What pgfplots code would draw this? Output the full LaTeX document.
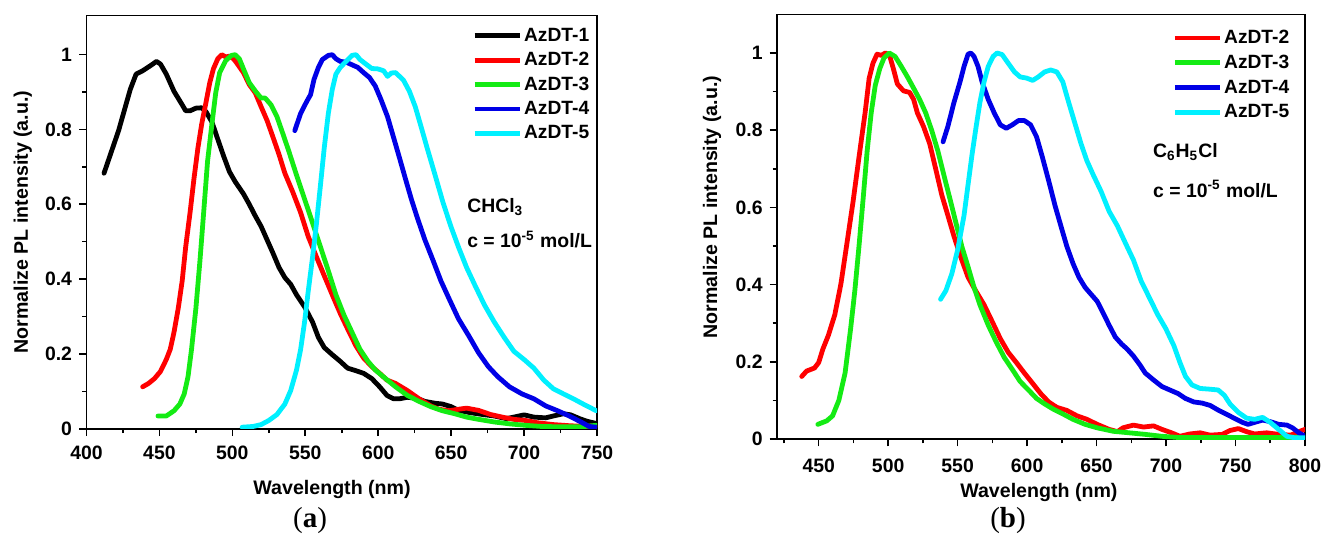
\documentclass[border=0pt]{standalone}
\usepackage{pgfplots}
\pgfplotsset{compat=1.18}
\usepackage{fontspec}
\setmainfont{Liberation Sans}
\newfontfamily\capfont{Liberation Serif}
\definecolor{cR}{RGB}{255,0,0}
\definecolor{cG}{RGB}{20,235,20}
\definecolor{cB}{RGB}{0,0,230}
\definecolor{cC}{RGB}{0,240,255}
\pgfplotsset{
  spec/.style={
    scale only axis,
    axis line style={line width=0.8pt},
    tick style={line width=0.8pt, black},
    tick align=outside, tick pos=left,
    major tick length=3.7pt, minor tick length=2.2pt,
    /pgf/number format/assume math mode=true,
    ticklabel style={font=\fontsize{9.7}{11}\selectfont\bfseries},
    ymin=0, ymax=1.105,
    ytick={0,0.2,0.4,0.6,0.8,1},
    minor ytick={0.1,0.3,0.5,0.7,0.9},
    ylabel={Normalize PL intensity (a.u.)},
    xlabel={Wavelength (nm)},
    every axis plot/.append style={line width=2.4pt, line join=round, line cap=round},
    legend style={draw=none, fill=none, inner sep=0pt, row sep=1.7pt,
      font=\fontsize{9.6}{11}\selectfont\bfseries,
      nodes={inner sep=1pt, text height=7pt, text depth=1.5pt}},
    legend cell align=left,
    legend image code/.code={\draw[#1, line width=2.4pt, line cap=butt] (0pt,0pt) -- (22.5pt,0pt);},
  }
}
\begin{document}
\begin{tikzpicture}
\useasboundingbox (0,0) rectangle (661pt,268.5pt);
% ---------------- (a) ----------------
\begin{axis}[spec,
  at={(43.25pt,54.15pt)}, anchor=south west,
  width=255.25pt, height=206.65pt,
  xmin=400, xmax=750,
  xtick={400,450,500,550,600,650,700,750},
  minor xtick={425,475,525,575,625,675,725},
  xticklabel shift=1.5pt,
  every axis y label/.style={at={(axis description cs:-0.125,0.5)}, rotate=90, anchor=center, font=\fontsize{9.8}{11}\selectfont\bfseries},
  every axis x label/.style={at={(axis description cs:0.481,-0.148)}, anchor=center, font=\fontsize{9.8}{11}\selectfont\bfseries},
  legend style={at={(0.755,0.977)}, anchor=north west},
  after end axis/.code={
    \node[anchor=center, font=\fontsize{14.5}{16}\selectfont\capfont] at (axis description cs:0.438,-0.2233) {(\textbf{a})};
  },
]
\addplot[black] coordinates {
(412,0.683)(422,0.797)(430,0.907)(434,0.948)(438.5,0.957)(444,0.971)(448,0.982)(450.7,0.975)
(454.7,0.948)(460,0.902)(465.6,0.866)(468,0.85)(471,0.85)(475,0.857)(479,0.858)(482,0.847)
(486,0.82)(490,0.774)(494,0.729)(498,0.687)(502,0.66)(507.6,0.628)(511.6,0.60)(515.7,0.569)
(519.7,0.541)(523.8,0.505)(528,0.468)(532,0.431)(536,0.404)(540,0.386)(544,0.358)(549.5,0.326)
(555,0.285)(559,0.244)(563,0.217)(568.5,0.198)(574,0.18)(579,0.162)(584.8,0.155)(590,0.148)
(595.6,0.134)(601,0.112)(606,0.089)(610.5,0.08)(614.6,0.08)(620,0.084)(626.8,0.081)(632,0.073)
(639,0.068)(644,0.066)(650,0.059)(655,0.049)(663,0.043)(671.5,0.038)(679.6,0.034)(687.7,0.027)
(693,0.031)(700,0.037)(706.7,0.031)(714.8,0.029)(720,0.034)(727,0.04)(732,0.037)(738,0.027)
(743,0.02)(749.5,0.014)};
\addlegendentry{AzDT-1}
\addplot[cR] coordinates {
(438.5,0.112)(442.5,0.121)(446.6,0.134)(450.7,0.153)(454.7,0.185)(457.4,0.212)(460,0.258)
(462.9,0.322)(465.6,0.395)(468,0.486)(471,0.578)(473.7,0.669)(476.4,0.751)(479,0.815)(481.8,0.87)
(484.5,0.925)(487,0.962)(490,0.989)(492.7,1.0)(495.4,0.994)(498,0.996)(500.8,0.989)(503.5,0.975)
(507.6,0.952)(511.6,0.92)(515.7,0.898)(519.7,0.861)(523.8,0.824)(527.9,0.779)(532,0.733)
(536,0.683)(541.4,0.633)(546.8,0.578)(552,0.514)(557.7,0.459)(563,0.409)(568.5,0.358)(574,0.308)
(579,0.267)(584.8,0.221)(590,0.189)(595.6,0.166)(601,0.148)(606,0.13)(611.9,0.121)(620,0.102)
(628,0.08)(636,0.061)(641.7,0.052)(648.4,0.048)(655,0.052)(660.6,0.055)(668.8,0.049)(677,0.038)
(685,0.031)(693,0.025)(701,0.022)(709,0.016)(720,0.011)(731,0.008)(742,0.006)(749.5,0.008)};
\addlegendentry{AzDT-2}
\addplot[cG] coordinates {
(449,0.034)(454.7,0.034)(460,0.048)(464,0.066)(467,0.093)(469.6,0.139)(472,0.212)(475,0.322)
(477.8,0.45)(480.5,0.587)(483,0.715)(486,0.815)(488.6,0.898)(491.3,0.952)(495.4,0.984)
(499.4,0.998)(502,1.0)(504.8,0.989)(507.6,0.962)(511.6,0.925)(515.7,0.903)(519.7,0.884)
(522.5,0.884)(526.5,0.866)(530.6,0.834)(534.7,0.788)(538.7,0.742)(544,0.678)(549.5,0.614)
(555,0.55)(560.4,0.486)(565.8,0.422)(571,0.358)(576.6,0.303)(582,0.258)(587.5,0.212)(593,0.18)
(598,0.157)(605,0.134)(611.9,0.112)(620,0.089)(628,0.073)(636,0.059)(644,0.048)(652.5,0.04)
(660.6,0.031)(668.8,0.025)(679.6,0.018)(690,0.013)(701,0.009)(712,0.006)(725.7,0.005)(739,0.005)
(749.5,0.009)};
\addlegendentry{AzDT-3}
\addplot[cB] coordinates {
(542.8,0.797)(546.8,0.843)(551,0.875)(553.6,0.893)(556,0.934)(559,0.966)(561.7,0.987)(565.8,0.998)
(568.5,1.0)(571,0.989)(574,0.982)(578,0.98)(582,0.973)(586,0.966)(590,0.952)(594,0.939)(598,0.916)
(602,0.879)(606.4,0.834)(610.5,0.779)(614.6,0.724)(618.6,0.669)(622.7,0.614)(626.8,0.564)
(632,0.505)(637.6,0.45)(643,0.395)(648.4,0.349)(655,0.294)(662,0.249)(668.8,0.203)(675.5,0.166)
(682,0.139)(690,0.112)(698.6,0.093)(706.7,0.08)(714.8,0.061)(723,0.048)(731,0.034)(739,0.018)
(744.6,0.006)(749.5,0.004)};
\addlegendentry{AzDT-4}
\addplot[cC] coordinates {
(506.7,0.004)(514.3,0.006)(519.7,0.011)(525,0.022)(530.6,0.038)(536,0.066)(540,0.102)(544,0.157)
(546.8,0.212)(549.5,0.285)(552,0.367)(555,0.459)(557.7,0.55)(560.4,0.651)(563,0.751)(565.8,0.843)
(568.5,0.907)(571,0.948)(574,0.966)(578,0.982)(582,0.998)(584.8,1.0)(587.5,0.987)(591.5,0.975)
(595.6,0.963)(599.7,0.962)(603.7,0.957)(606.4,0.942)(609,0.951)(611.9,0.952)(614.6,0.942)
(617.3,0.932)(621.4,0.902)(625.4,0.861)(629.5,0.806)(633.5,0.751)(639,0.678)(644.4,0.605)
(649.8,0.541)(655,0.486)(660.6,0.431)(666,0.386)(672.8,0.331)(679.6,0.285)(686.4,0.244)(693,0.207)
(700,0.185)(706.7,0.162)(713.5,0.13)(720,0.107)(727,0.093)(733.8,0.08)(740.5,0.066)(749.5,0.048)};
\addlegendentry{AzDT-5}
\node[anchor=west, font=\fontsize{9.7}{11}\selectfont\bfseries] at (axis description cs:0.732,0.536) {CHCl\textsubscript{3}};
\node[anchor=west, font=\fontsize{9.7}{11}\selectfont\bfseries] at (axis description cs:0.732,0.457) {c = 10\textsuperscript{-5} mol/L};
\end{axis}
% ---------------- (b) ----------------
\begin{axis}[spec,
  at={(388.5pt,49pt)}, anchor=south west,
  width=264pt, height=212.3pt,
  xmin=420, xmax=800, ymax=1.1,
  xtick={450,500,550,600,650,700,750,800},
  minor xtick={425,475,525,575,625,675,725,775},
  xticklabel shift=2.5pt,
  every axis y label/.style={at={(axis description cs:-0.123,0.546)}, rotate=90, anchor=center, font=\fontsize{9.8}{11}\selectfont\bfseries},
  every axis x label/.style={at={(axis description cs:0.496,-0.127)}, anchor=center, font=\fontsize{9.8}{11}\selectfont\bfseries},
  legend style={at={(0.748,0.970)}, anchor=north west, row sep=1.9pt},
  after end axis/.code={
    \node[anchor=center, font=\fontsize{14.5}{16}\selectfont\capfont] at (axis description cs:0.4375,-0.193) {(\textbf{b})};
  },
]
\addplot[cR] coordinates {
(437.8,0.162)(441.3,0.176)(447,0.184)(450,0.198)(453,0.233)(457,0.269)(461.6,0.322)(466,0.402)
(470,0.499)(474.7,0.614)(479,0.73)(483.4,0.845)(486.3,0.934)(489,0.973)(492,0.997)(495,0.994)
(498,1.0)(500.8,0.996)(503.7,0.96)(506.6,0.92)(511,0.902)(515.4,0.898)(518.3,0.88)(521,0.845)
(525.5,0.809)(529.9,0.765)(534,0.703)(538.6,0.632)(543,0.579)(547.3,0.526)(551.7,0.477)
(557.5,0.419)(563,0.384)(569,0.348)(574.9,0.304)(580.7,0.26)(586.5,0.224)(592.3,0.198)(598,0.171)
(604,0.144)(609.7,0.118)(615.5,0.096)(621.4,0.082)(628.6,0.074)(635.9,0.06)(643,0.051)(650.4,0.038)
(659,0.025)(665,0.019)(669,0.029)(676.5,0.036)(683.8,0.031)(691,0.034)(697,0.025)(704,0.016)
(710,0.007)(717,0.013)(724.5,0.016)(731.7,0.01)(740.4,0.012)(746,0.022)(752,0.027)(758,0.019)
(763.7,0.013)(772.4,0.016)(781,0.012)(789.8,0.01)(795.6,0.019)(800,0.025)};
\addlegendentry{AzDT-2}
\addplot[cG] coordinates {
(449.4,0.038)(455.8,0.047)(460,0.06)(464.5,0.1)(469,0.171)(473,0.286)(476,0.384)(479,0.499)
(482,0.623)(484.9,0.747)(487.8,0.845)(490.7,0.916)(494,0.96)(497,0.987)(500.8,1.0)(505,0.991)
(509.5,0.965)(513.9,0.938)(518,0.911)(522.6,0.88)(527,0.845)(531.3,0.8)(535.7,0.747)(540,0.685)
(544.4,0.623)(548.7,0.561)(553,0.499)(557.5,0.446)(561.8,0.393)(566,0.348)(572,0.295)(577.8,0.251)
(583.6,0.211)(589.4,0.18)(595,0.149)(601,0.127)(606.8,0.105)(612.6,0.091)(618.5,0.078)(625.7,0.065)
(633,0.051)(641.7,0.038)(650.4,0.029)(662,0.02)(673.6,0.016)(685,0.012)(697,0.007)(708.5,0.004)
(723,0.004)(740.4,0.004)(758,0.004)(775,0.004)(789.8,0.004)(800,0.006)};
\addlegendentry{AzDT-3}
\addplot[cB] coordinates {
(539.5,0.77)(543,0.81)(547.3,0.871)(551.7,0.925)(554.6,0.965)(557.5,0.997)(559.5,1.0)(561.8,0.991)
(564.7,0.965)(567.6,0.925)(572,0.88)(576.3,0.845)(580.7,0.814)(585,0.805)(589.4,0.814)(593.8,0.825)
(598,0.825)(602.5,0.814)(606.8,0.783)(611,0.73)(615.6,0.668)(620,0.606)(624.3,0.552)(628.6,0.499)
(633,0.455)(637.3,0.419)(641.7,0.393)(646,0.375)(650.4,0.357)(654.8,0.326)(659,0.295)(663.5,0.264)
(668,0.246)(672,0.233)(676.5,0.215)(681,0.193)(685,0.171)(691,0.153)(697,0.136)(702.7,0.127)
(708.5,0.118)(714,0.105)(720,0.096)(726,0.093)(731.7,0.087)(737.5,0.075)(743,0.065)(749,0.054)
(755,0.043)(759,0.038)(763.7,0.043)(769.5,0.049)(775,0.045)(781,0.038)(787,0.036)(791,0.029)
(795.6,0.016)(800,0.007)};
\addlegendentry{AzDT-4}
\addplot[cC] coordinates {
(537.7,0.362)(541.5,0.384)(545.8,0.428)(550,0.49)(554.6,0.579)(557.5,0.659)(560.4,0.738)(563.3,0.809)
(566,0.871)(569,0.925)(572,0.965)(575.5,0.991)(578.4,1.0)(582,0.996)(586.5,0.973)(590.9,0.951)
(595,0.938)(599.6,0.935)(604,0.929)(608,0.938)(612.6,0.951)(617,0.956)(621.4,0.951)(625.7,0.925)
(630,0.871)(634.4,0.818)(638.8,0.765)(643,0.721)(647.5,0.685)(653.3,0.641)(659,0.59)(665,0.552)
(670.7,0.508)(676.5,0.464)(682,0.41)(688,0.366)(694,0.322)(699.8,0.286)(705.6,0.242)(710,0.198)
(714,0.162)(718.7,0.14)(724.5,0.131)(731.7,0.129)(737.5,0.127)(742,0.113)(746,0.091)(752,0.069)
(758,0.054)(763.7,0.051)(769.5,0.056)(775,0.043)(781,0.025)(787,0.007)(792.7,0.003)(800,0.003)};
\addlegendentry{AzDT-5}
\node[anchor=west, font=\fontsize{9.7}{11}\selectfont\bfseries] at (axis description cs:0.699,0.676) {C\textsubscript{6}H\textsubscript{5}Cl};
\node[anchor=west, font=\fontsize{9.7}{11}\selectfont\bfseries] at (axis description cs:0.699,0.589) {c = 10\textsuperscript{-5} mol/L};
\end{axis}
\end{tikzpicture}
\end{document}
